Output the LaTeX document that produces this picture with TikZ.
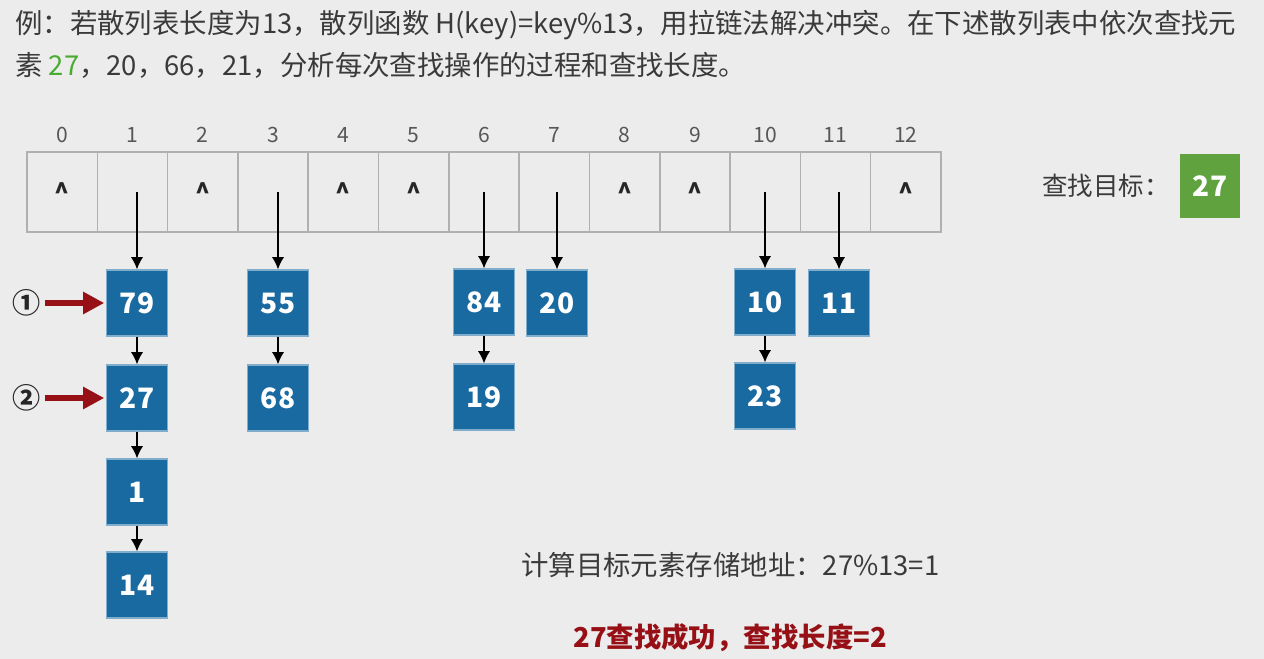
\documentclass[tikz,border=0pt]{standalone}
\usepackage{fontspec}
\setmainfont{Noto Sans CJK SC}
\usetikzlibrary{arrows.meta,positioning}
\definecolor{BgClr}{RGB}{236,236,236}
\definecolor{CellClr}{RGB}{176,176,176}
\definecolor{NodeClr}{RGB}{24,106,160}
\definecolor{GoalClr}{RGB}{95,162,62}
\definecolor{TxtClr}{RGB}{58,58,58}
\definecolor{HitClr}{RGB}{150,16,22}
\definecolor{KeyClr}{RGB}{72,172,48}

\begin{document}
\begin{tikzpicture}[x=0.02cm,y=-0.02cm,
  cell/.style={draw=CellClr,line width=0.9pt,minimum width=1.406cm,minimum height=1.6cm,inner sep=0pt},
  nul/.style={inner sep=0pt,text=black!85,font=\bfseries\fontsize{14}{14}\selectfont},
  idx/.style={inner sep=0pt,text=TxtClr!85,font=\fontsize{12}{12}\selectfont},
  elem/.style={fill=NodeClr,draw=NodeClr!55!white,line width=0.6pt,minimum width=1.22cm,minimum height=1.32cm,inner sep=0pt,text=white,font=\bfseries\fontsize{16}{16}\selectfont},
  link/.style={-{Latex[length=7pt,width=7pt]},line width=1.1pt},
  hit/.style={-{Triangle[length=12pt,width=12pt]},line width=3.4pt,draw=HitClr},
  txt/.style={inner sep=0pt,anchor=west,text=TxtClr,font=\fontsize{15.6}{16}\selectfont}]

\fill[BgClr] (0,0) rectangle (1264,659);

\node[txt] (t1) at (15,25) {例：若散列表长度为13，散列函数 H(key)=key\%13，用拉链法解决冲突。在下述散列表中依次查找元};
\node[txt] (t2) at (15,65) {素 {\color{KeyClr}27}，20，66，21，分析每次查找操作的过程和查找长度。};

\foreach \i in {0,...,12}{
  \node[cell] (c\i) at ({62.15+70.3*\i},192) {};
  \node[idx] (i\i) at ({62.15+70.3*\i},135) {\i};
}
\foreach \i in {0,2,4,5,8,9,12}
  \node[nul] (z\i) at (c\i) {\textasciicircum};

\node[elem] (n79) at (137,303) {79};
\node[elem] (n27) at (137,398) {27};
\node[elem] (n1) at (137,492) {1};
\node[elem] (n14) at (137,585) {14};
\node[elem] (n55) at (278,303) {55};
\node[elem] (n68) at (278,398) {68};
\node[elem] (n84) at (484,302) {84};
\node[elem] (n19) at (484,397) {19};
\node[elem] (n20) at (557,303) {20};
\node[elem] (n10) at (765,302) {10};
\node[elem] (n23) at (765,396) {23};
\node[elem] (n11) at (839,303) {11};

\draw[link] (n79 |- c1.center) -- (n79);
\draw[link] (n55 |- c3.center) -- (n55);
\draw[link] (n84 |- c6.center) -- (n84);
\draw[link] (n20 |- c7.center) -- (n20);
\draw[link] (n10 |- c10.center) -- (n10);
\draw[link] (n11 |- c11.center) -- (n11);
\draw[link] (n79) -- (n27);
\draw[link] (n27) -- (n1);
\draw[link] (n1) -- (n14);
\draw[link] (n55) -- (n68);
\draw[link] (n84) -- (n19);
\draw[link] (n10) -- (n23);

\node[inner sep=0pt,text=black!85,font=\bfseries\fontsize{16}{16}\selectfont] (m1) at (27,303) {①};
\node[inner sep=0pt,text=black!85,font=\bfseries\fontsize{16}{16}\selectfont] (m2) at (27,398) {②};
\draw[hit,shorten <=2pt,shorten >=1pt] (m1) -- (n79);
\draw[hit,shorten <=2pt,shorten >=1pt] (m2) -- (n27);

\node[txt,anchor=east,font=\fontsize{14.5}{15}\selectfont] (g) at (1170,186) {查找目标：};
\node[fill=GoalClr,minimum width=1.2cm,minimum height=1.3cm,inner sep=0pt,text=white,font=\bfseries\fontsize{16}{16}\selectfont] (goal) at (1210,186) {27};

\node[txt] (addr) at (521,565) {计算目标元素存储地址：27\%13=1};
\node[txt,text=HitClr,font=\bfseries\fontsize{15.6}{16}\selectfont] (res) at (573,638) {27查找成功，查找长度=2};
\end{tikzpicture}
\end{document}
